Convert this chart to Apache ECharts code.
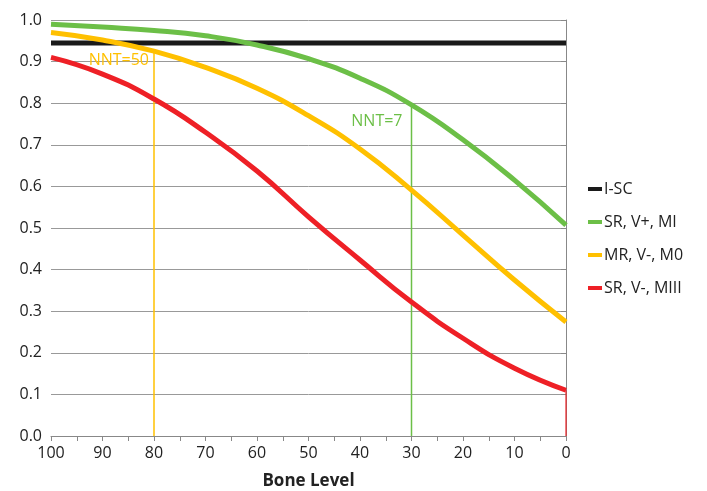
<!DOCTYPE html>
<html><head><meta charset="utf-8">
<script src="https://cdn.jsdelivr.net/npm/echarts@6/dist/echarts.min.js"></script>
<style>html,body{margin:0;padding:0;background:#fff}#c{width:707px;height:491px}</style>
</head><body><div id="c"></div>
<script>
const boneLevels = [100, 90, 80, 70, 60, 50, 40, 30, 20, 10, 0];
const iSC =   [0.945, 0.945, 0.945, 0.945, 0.945, 0.945, 0.945, 0.945, 0.945, 0.945, 0.945];
const srVpMI = [0.990, 0.983, 0.975, 0.962, 0.940, 0.907, 0.860, 0.796, 0.712, 0.615, 0.507];
const mrVmM0 = [0.970, 0.952, 0.925, 0.886, 0.836, 0.770, 0.690, 0.591, 0.483, 0.375, 0.274];
const srVmMIII = [0.910, 0.870, 0.810, 0.730, 0.637, 0.527, 0.423, 0.322, 0.235, 0.163, 0.110];
const seriesNames = ['I-SC', 'SR, V+, MI', 'MR, V-, M0', 'SR, V-, MIII'];
const nnt50 = {x: 80, y: 0.925, label: 'NNT=50'};
const nnt7 = {x: 30, y: 0.796, label: 'NNT=7'};
const redDrop = {x: 0, y: 0.110};

const colors = ['#1a1a1a', '#6cbf47', '#ffc000', '#ee2026'];
const font = '"Open Sans", "Noto Sans", sans-serif';
const pairs = arr => boneLevels.map((b, i) => [b, arr[i]]);

function mainSeries(name, arr, color) {
  return {
    name, type: 'line', data: pairs(arr), smooth: true, showSymbol: false,
    lineStyle: {color, width: 5}, itemStyle: {color}, z: 3
  };
}
function vline(pt, color, width, label, offset, distance) {
  const s = {
    type: 'line', data: [[pt.x, 0], [pt.x, pt.y]], showSymbol: false, silent: true,
    lineStyle: {color, width}, z: 2
  };
  if (label) {
    s.markPoint = {
      symbolSize: 0, silent: true,
      data: [{coord: [pt.x, pt.y], value: label}],
      label: {show: true, position: 'left', distance, offset, formatter: label,
        color, fontSize: 16, fontFamily: font}
    };
  }
  return s;
}

const chart = echarts.init(document.getElementById('c'));
chart.setOption({
  animation: false,
  grid: {left: 51, right: 141, top: 20, bottom: 55, containLabel: false, outerBoundsMode: 'none'},
  legend: {
    data: seriesNames, orient: 'vertical', left: 583, top: 176, itemGap: 17,
    itemWidth: 14, itemHeight: 4, icon: 'rect',
    textStyle: {fontSize: 16, fontFamily: font, color: '#222', padding: [0, 0, 0, -3]}
  },
  xAxis: {
    type: 'value', inverse: true, min: 0, max: 100, interval: 5,
    name: 'Bone Level', nameLocation: 'middle', nameGap: 37,
    nameTextStyle: {fontSize: 17, fontWeight: 'bold', fontFamily: font, color: '#222'},
    axisLine: {lineStyle: {color: '#888', width: 1}},
    axisTick: {show: true, length: 5, lineStyle: {color: '#888'}},
    axisLabel: {fontSize: 16, fontFamily: font, color: '#222', margin: 9,
      formatter: v => (v % 10 === 0 ? String(v) : '')},
    splitLine: {show: false}
  },
  yAxis: {
    type: 'value', min: 0, max: 1, interval: 0.1,
    axisLine: {show: true, lineStyle: {color: '#888', width: 1}},
    axisTick: {show: true, length: 5, lineStyle: {color: '#888'}},
    axisLabel: {fontSize: 16, fontFamily: font, color: '#222', margin: 9,
      formatter: v => v.toFixed(1)},
    splitLine: {lineStyle: {color: '#999', width: 1}}
  },
  series: [
    vline(nnt50, '#ffc000', 1.5, nnt50.label, [0, 9], 5),
    vline(nnt7, '#6cbf47', 1.5, nnt7.label, [0, 17], 9),
    vline(redDrop, '#ee2026', 1.2, null),
    mainSeries(seriesNames[0], iSC, colors[0]),
    mainSeries(seriesNames[1], srVpMI, colors[1]),
    mainSeries(seriesNames[2], mrVmM0, colors[2]),
    mainSeries(seriesNames[3], srVmMIII, colors[3])
  ]
});
</script></body></html>
